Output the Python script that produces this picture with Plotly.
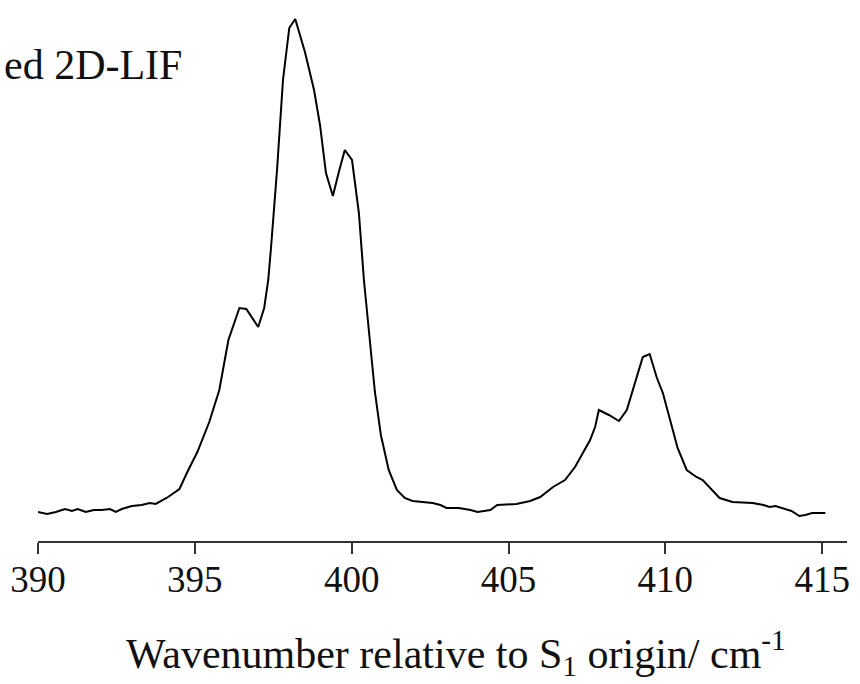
import plotly.graph_objects as go

wavenumber = [390.00, 390.29, 390.57, 390.86, 391.08, 391.27, 391.52, 391.78, 392.03, 392.29,
              392.48, 392.67, 392.99, 393.30, 393.56, 393.75, 394.10, 394.51, 394.76, 395.08,
              395.46, 395.78, 396.07, 396.42, 396.64, 397.02, 397.21, 397.34, 397.43, 397.62,
              397.81, 398.01, 398.20, 398.51, 398.80, 398.99, 399.18, 399.40, 399.59, 399.78,
              400.01, 400.23, 400.39, 400.55, 400.74, 400.93, 401.18, 401.44, 401.69, 401.94,
              402.20, 402.58, 402.83, 403.02, 403.41, 403.79, 404.01, 404.42, 404.64, 405.06,
              405.25, 405.69, 406.01, 406.42, 406.80, 407.12, 407.38, 407.60, 407.76, 407.88,
              408.20, 408.52, 408.77, 409.02, 409.28, 409.50, 409.73, 409.92, 410.14, 410.39,
              410.68, 410.99, 411.19, 411.47, 411.73, 412.14, 412.52, 412.78, 413.13, 413.32,
              413.51, 413.83, 414.02, 414.27, 414.46, 414.68, 415.10]

intensity = [29, 27, 29, 32, 30, 32, 29, 31, 31, 32,
             29, 32, 35, 36, 38, 37, 43, 52, 69, 89,
             119, 151, 201, 233, 232, 214, 233, 261, 294, 371,
             461, 513, 522, 489, 451, 416, 368, 345, 369, 391,
             381, 328, 261, 208, 149, 106, 71, 51, 43, 40,
             39, 38, 36, 33, 33, 31, 29, 31, 36, 37,
             37, 40, 44, 54, 61, 74, 88, 101, 114, 131,
             126, 120, 131, 156, 184, 187, 163, 148, 121, 93,
             71, 64, 61, 52, 43, 39, 38, 38, 36, 34,
             35, 32, 30, 25, 26, 28, 28]

tick_vals = [390, 395, 400, 405, 410, 415]
tick_text = ["390", "395", "400", "405", "410", "415"]

label_text = "ed 2D-LIF"
x_title = "Wavenumber relative to S<sub>1</sub> origin/ cm<sup>-1</sup>"

FONT = "Liberation Serif, Times New Roman, serif"

fig = go.Figure()
fig.add_trace(go.Scatter(
    x=wavenumber, y=intensity, mode="lines",
    line=dict(color="#000000", width=2),
    showlegend=False, hoverinfo="skip"))

fig.update_layout(
    width=860, height=684,
    margin=dict(l=36, r=12, t=10, b=143),
    paper_bgcolor="white", plot_bgcolor="white",
    font=dict(family=FONT, color="#111111"),
    xaxis=dict(
        range=[390, 415.79], showgrid=False, zeroline=False,
        showline=True, linecolor="#333333", linewidth=2,
        ticks="outside", ticklen=11, tickwidth=2, tickcolor="#333333",
        tickvals=tick_vals, ticktext=tick_text,
        tickfont=dict(family=FONT, size=37, color="#111111"),
        ticklabelstandoff=-6,
    ),
    yaxis=dict(range=[0, 531], visible=False),
    annotations=[
        dict(text=label_text, xref="paper", yref="paper",
             x=-0.0443, y=0.896, xanchor="left", yanchor="middle",
             showarrow=False, font=dict(family=FONT, size=42, color="#111111")),
        dict(text=x_title, xref="paper", yref="paper",
             x=0.517, y=-0.21, xanchor="center", yanchor="middle",
             showarrow=False, font=dict(family=FONT, size=42, color="#111111")),
    ],
)

fig.write_html("out.html")
